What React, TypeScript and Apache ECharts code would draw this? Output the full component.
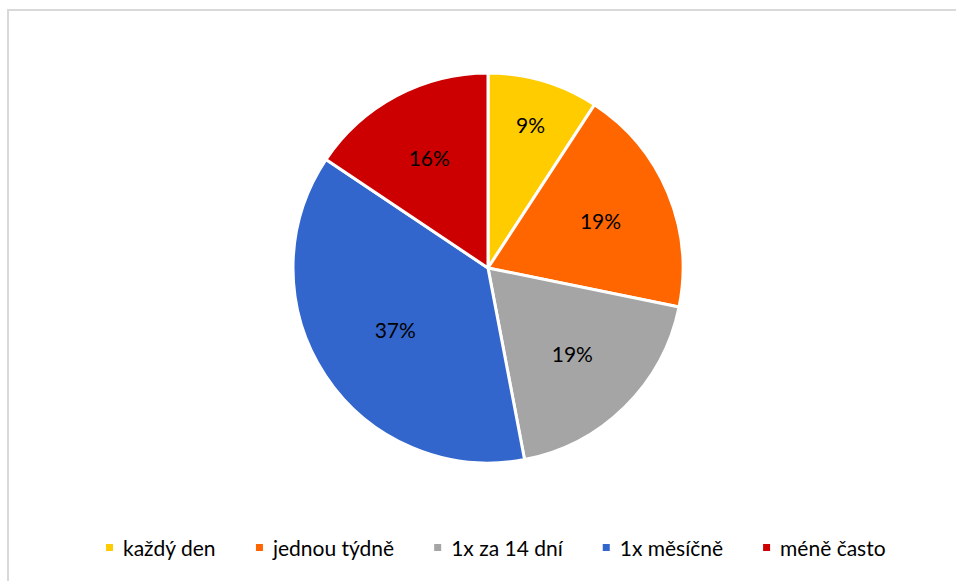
import React, { useEffect, useRef } from "react";
import * as echarts from "echarts";

const categories = ["každý den", "jednou týdně", "1x za 14 dní", "1x měsíčně", "méně často"];
const values = [9.2, 19.0, 18.8, 37.4, 15.6];
const colors = ["#FFCC00", "#FF6600", "#A5A5A5", "#3366CC", "#CC0000"];
// relative radial position of each inside label (fraction of pie radius)
const labelRadiusFactors = [0.75, 0.61, 0.6, 0.555, 0.625];

const RADIUS = 195;

export default function App() {
  const ref = useRef<HTMLDivElement>(null);
  useEffect(() => {
    const chart = echarts.init(ref.current!, null, { renderer: "svg" });
    const total = values.reduce((a, b) => a + b, 0);
    let acc = 0;
    const data = values.map((v, i) => {
      const mid = ((acc + v / 2) / total) * Math.PI * 2;
      acc += v;
      const base = RADIUS / 2;
      const target = RADIUS * labelRadiusFactors[i];
      const d = target - base;
      return {
        name: categories[i],
        value: v,
        itemStyle: { color: colors[i] },
        label: { offset: [d * Math.sin(mid), -d * Math.cos(mid)] },
      };
    });
    chart.setOption({
      animation: false,
      backgroundColor: "#ffffff",
      graphic: [
        {
          type: "rect",
          shape: { x: 8, y: 10, width: 1200, height: 1200 },
          style: { fill: "none", stroke: "#d9d9d9", lineWidth: 2 },
          silent: true,
        },
      ],
      legend: {
        bottom: 18,
        left: 99,
        icon: "rect",
        itemWidth: 9,
        itemHeight: 9,
        itemGap: 38,
        textStyle: {
          fontFamily: "Lato, 'Open Sans', sans-serif",
          fontSize: 21,
          color: "#000000",
          padding: [0, 0, 0, 4],
        },
        data: categories,
      },
      series: [
        {
          type: "pie",
          center: [488, 268],
          radius: [0, RADIUS],
          startAngle: 90,
          clockwise: true,
          itemStyle: { borderColor: "#ffffff", borderWidth: 3 },
          label: {
            position: "inside",
            fontFamily: "Lato, 'Open Sans', sans-serif",
            fontSize: 21,
            color: "#000000",
            formatter: (p: any) => Math.round(p.percent) + "%",
          },
          labelLine: { show: false },
          emphasis: { disabled: true },
          data,
        },
      ],
    });
    return () => chart.dispose();
  }, []);
  return (
    <div style={{ position: "absolute", left: 0, top: 0, width: 956, height: 581 }}>
      <div ref={ref} style={{ width: 956, height: 581 }} />
    </div>
  );
}
